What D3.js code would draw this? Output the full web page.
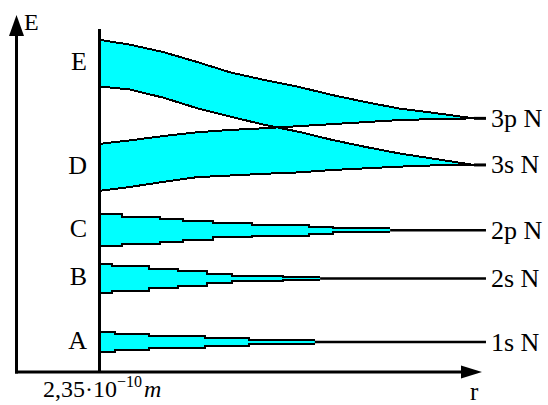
<!DOCTYPE html>
<html><head><meta charset="utf-8">
<script src="https://cdn.jsdelivr.net/npm/d3@7"></script>
<style>
html,body{margin:0;padding:0;background:#fff;}
svg{display:block;}
text{font-family:"Liberation Serif","Times New Roman",serif;fill:#000;}
</style></head><body>
<svg id="chart" width="548" height="405"></svg>
<script>
// ---------- data (arbitrary units: r = 0 at 2.35e-10 m, energy 0..100) ----------
// shared radius grid for the two crossing levels (E and D bands)
const splitR       = [0, 8, 17, 26, 35, 44, 53, 62, 71, 80, 90, 100];
const bandETop     = [97.7, 96.3, 94.1, 91.2, 88.1, 85.9, 83.9, 81.5, 79.4, 77.5, 76.1, 74.6]; // -> 3p
const bandEBottom  = [84.0, 83.1, 80.7, 77.6, 75.1, 72.7, 70.7, 68.3, 66.2, 64.3, 62.6, 60.9]; // -> 3s
const bandDTop     = [67.1, 68.1, 69.4, 70.5, 71.2, 71.7, 72.3, 72.9, 73.5, 74.1, 74.4, 74.6]; // -> 3p
const bandDBottom  = [53.3, 54.4, 55.9, 57.3, 57.8, 58.3, 58.7, 59.4, 59.9, 60.4, 60.8, 60.9]; // -> 3s

// atomic levels at large r
const levelNames  = ["3p N", "3s N", "2p N", "2s N", "1s N"];
const levelEnergy = [74.6, 60.9, 41.7, 27.5, 8.8];
const levelEndR   = 103.2;

// stepped (narrowing) bands: step start radii and half-widths
const band2pR    = [0, 6, 16.2, 22.3, 30.3, 40.7, 55.9, 62.3, 77.6];
const band2pHalf = [4.65, 4.0, 3.35, 2.8, 2.1, 1.6, 1.07, 0.6];
const band2sR    = [0, 3.3, 13.2, 21.0, 28.7, 35.4, 49.0, 58.9];
const band2sHalf = [4.26, 3.59, 2.84, 2.12, 1.37, 0.82, 0.4];
const band1sR    = [0, 4.1, 13.2, 28.2, 39.9, 57.5];
const band1sHalf = [2.94, 2.25, 1.66, 1.09, 0.59];

const bandLetters = ["E", "D", "C", "B", "A"];

// ---------- drawing ----------
const svg = d3.select("#chart");
const x = d3.scaleLinear().domain([0, 100]).range([99.5, 474]);
const y = d3.scaleLinear().domain([0, 100]).range([372, 32]);

const axisX = 16.5, axisY = y(0), xTip = 482, yTip = 15, innerTop = 29;
const cyan = "#00FFFF";

// E / D crossing bands
const split = splitR.map((r, i) => ({r, a: bandETop[i], b: bandEBottom[i], c: bandDTop[i], d: bandDBottom[i]}));
svg.append("path").datum(split)
  .attr("d", d3.area().x(p => x(p.r)).y0(p => y(p.d)).y1(p => y(p.a)))
  .attr("fill", cyan).attr("shape-rendering", "crispEdges");
svg.append("path").datum(split)
  .attr("d", d3.area().x(p => x(p.r)).y0(p => y(p.c)).y1(p => y(p.b)))
  .attr("fill", "#fff").attr("shape-rendering", "crispEdges");
["a", "b", "c", "d"].forEach(k => {
  svg.append("path").datum(split)
    .attr("d", d3.line().x(p => x(p.r)).y(p => y(p[k])))
    .attr("fill", "none").attr("stroke", "#000").attr("stroke-width", 2)
    .attr("shape-rendering", "crispEdges");
});
// short stubs where the 3p / 3s levels meet
[0, 1].forEach(i => {
  svg.append("line")
    .attr("x1", x(100)).attr("x2", x(levelEndR))
    .attr("y1", y(levelEnergy[i])).attr("y2", y(levelEnergy[i]))
    .attr("stroke", "#000").attr("stroke-width", 3);
});

// stepped bands
function steppedBand(R, H, center) {
  const pts = R.map((r, i) => ({r, h: H[Math.min(i, H.length - 1)]}));
  const g = svg.append("g");
  g.append("path").datum(pts)
    .attr("d", d3.area().curve(d3.curveStepAfter).x(p => x(p.r)).y0(p => y(center - p.h)).y1(p => y(center + p.h)))
    .attr("fill", cyan).attr("shape-rendering", "crispEdges");
  [1, -1].forEach(s => {
    g.append("path").datum(pts)
      .attr("d", d3.line().curve(d3.curveStepAfter).x(p => x(p.r)).y(p => y(center + s * p.h)))
      .attr("fill", "none").attr("stroke", "#000").attr("stroke-width", 2)
      .attr("shape-rendering", "crispEdges");
  });
  g.append("line")
    .attr("x1", x(R[R.length - 1])).attr("x2", x(levelEndR))
    .attr("y1", y(center)).attr("y2", y(center))
    .attr("stroke", "#000").attr("stroke-width", 2.5);
}
steppedBand(band2pR, band2pHalf, levelEnergy[2]);
steppedBand(band2sR, band2sHalf, levelEnergy[3]);
steppedBand(band1sR, band1sHalf, levelEnergy[4]);

// inner vertical line at r = 2.35e-10 m
svg.append("line").attr("x1", x(0)).attr("x2", x(0)).attr("y1", innerTop).attr("y2", axisY)
  .attr("stroke", "#000").attr("stroke-width", 3);

// axes with arrows
svg.append("line").attr("x1", axisX).attr("x2", axisX).attr("y1", axisY + 1.5).attr("y2", yTip + 18)
  .attr("stroke", "#000").attr("stroke-width", 3);
svg.append("path").attr("d", `M${axisX},${yTip} L${axisX - 7.5},${yTip + 21} L${axisX + 7.5},${yTip + 21} Z`).attr("fill", "#000");
svg.append("line").attr("x1", axisX - 1.5).attr("x2", xTip - 18).attr("y1", axisY).attr("y2", axisY)
  .attr("stroke", "#000").attr("stroke-width", 3);
svg.append("path").attr("d", `M${xTip},${axisY} L${xTip - 21},${axisY - 6.5} L${xTip - 21},${axisY + 6.5} Z`).attr("fill", "#000");

// texts
svg.append("text").attr("x", 24).attr("y", 30).attr("font-size", 24).text("E");
svg.append("text").attr("x", 470).attr("y", 400).attr("font-size", 25).text("r");

const letterE = [(bandETop[0] + bandEBottom[0]) / 2, (bandDTop[0] + bandDBottom[0]) / 2,
                 levelEnergy[2], levelEnergy[3], levelEnergy[4]];
svg.selectAll("text.band").data(bandLetters).join("text").attr("class", "band")
  .attr("x", 87).attr("y", (d, i) => y(letterE[i]) - 2)
  .attr("text-anchor", "end").attr("dominant-baseline", "central").attr("font-size", 26)
  .text(d => d);

svg.selectAll("text.level").data(levelNames).join("text").attr("class", "level")
  .attr("x", 491).attr("y", (d, i) => y(levelEnergy[i]))
  .attr("dominant-baseline", "central").attr("font-size", 26)
  .text(d => d);

const t = svg.append("text").attr("x", 43).attr("y", 397).attr("font-size", 24);
t.append("tspan").text("2,35\u00B710");
t.append("tspan").attr("font-size", 16).attr("dy", -10).text("\u221210");
t.append("tspan").attr("font-style", "italic").attr("dy", 10).attr("dx", 2).text("m");
</script>
</body></html>
